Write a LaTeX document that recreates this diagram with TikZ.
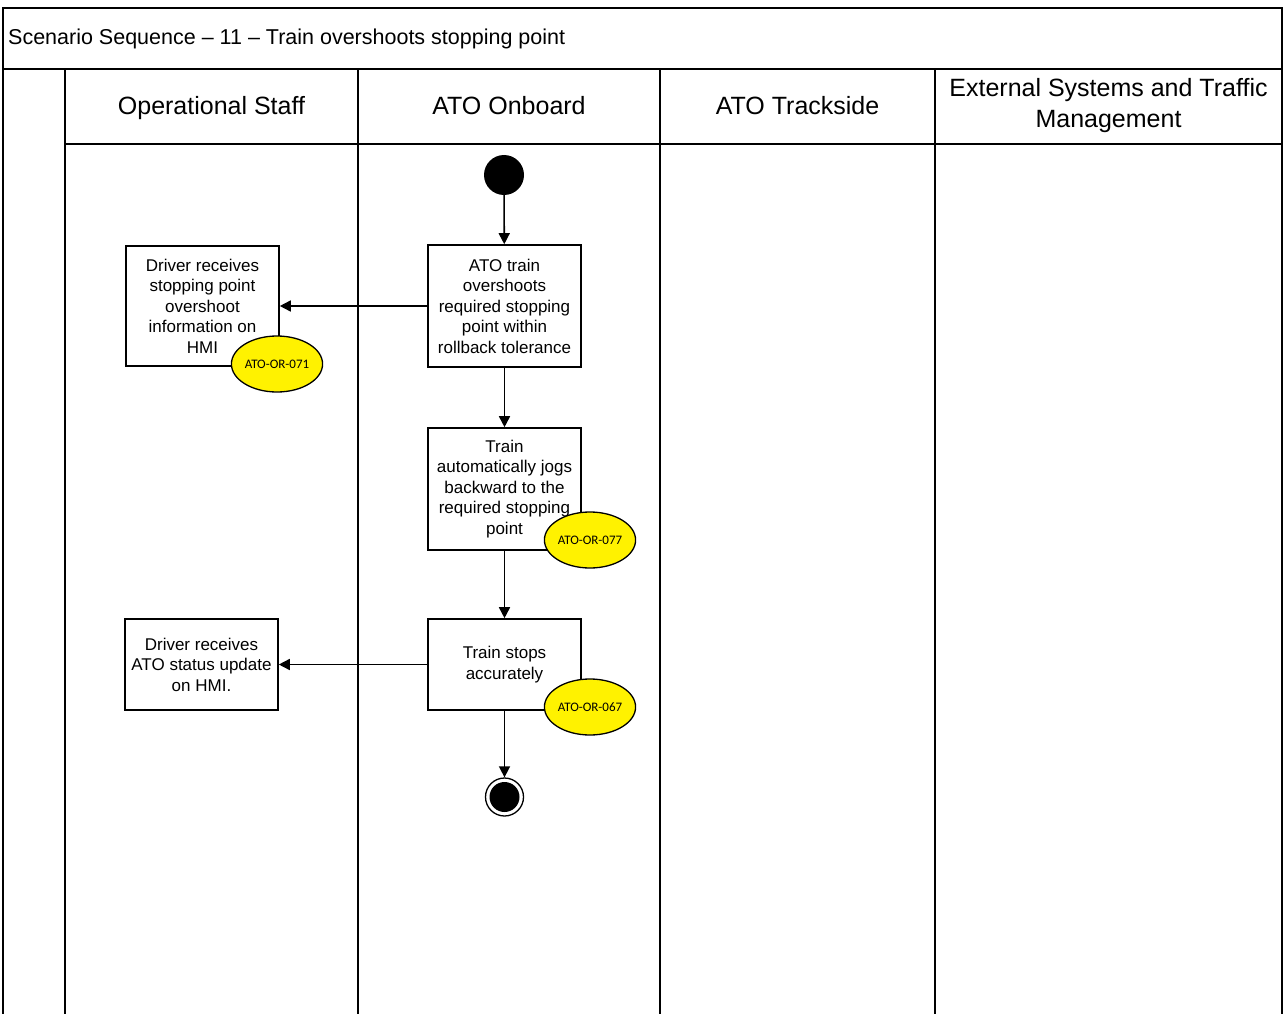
\documentclass[tikz,border=0pt]{standalone}
\usepackage{fontspec}
\setmainfont{Liberation Sans}
\newfontfamily\tagfont{Carlito}
\usetikzlibrary{arrows.meta,shapes.geometric}

\begin{document}
\begin{tikzpicture}[x=1pt,y=-1pt,
  frameline/.style={line width=2pt,line cap=rect},
  actbox/.style={draw,line width=1.6pt,fill=white,inner sep=0pt,align=center,
    font=\fontsize{17}{20.5}\selectfont},
  lanehead/.style={align=center,inner sep=0pt,anchor=base,font=\fontsize{25}{31}\selectfont},
  reqtag/.style={ellipse,draw,line width=1.3pt,fill=yellow,inner sep=0pt,
    minimum width=85pt,minimum height=56pt,font=\tagfont\fontsize{13}{15}\selectfont},
  flow/.style={line width=1.6pt,-{Triangle[length=11pt,width=11pt]}},
  startdot/.style={circle,fill=black,inner sep=0pt,minimum size=40pt},
  enddot/.style={circle,draw,line width=1.3pt,fill=white,inner sep=0pt,minimum size=38pt,
    path picture={\fill[black] (path picture bounding box.center) circle[radius=15pt];}}]

\useasboundingbox (0,0) rectangle (1285,1014);

% swimlane frame
\draw[frameline] (3,1014) -- (3,8) -- (1282,8) -- (1282,1014);
\draw[frameline] (3,69) -- (1282,69);
\draw[frameline] (65,144) -- (1282,144);
\foreach \lx in {65,358,660,935}
  \draw[frameline] (\lx,69) -- (\lx,1014);

% title and lane headings
\node[anchor=west,inner sep=0pt,font=\fontsize{21.5}{25}\selectfont] (title) at (8,39)
  {Scenario Sequence – 11 – Train overshoots stopping point};
\node[lanehead] (hstaff) at (211.5,115) {Operational Staff};
\node[lanehead] (honb) at (509,115) {ATO Onboard};
\node[lanehead] (htrk) at (797.5,115) {ATO Trackside};
\node[lanehead,anchor=center] (hext) at (1108.5,106) {External Systems and Traffic\\Management};

% activity nodes
\node[startdot] (start) at (504,175) {};
\node[actbox,minimum width=153pt,minimum height=122pt] (overshoot) at (504.5,306)
  {ATO train\\overshoots\\required stopping\\point within\\rollback tolerance};
\node[actbox,minimum width=153pt,minimum height=120pt] (drvinfo) at (202.5,306)
  {Driver receives\\stopping point\\overshoot\\information on\\HMI};
\node[actbox,minimum width=153pt,minimum height=122pt] (jog) at (504.5,489)
  {Train\\automatically jogs\\backward to the\\required stopping\\point};
\node[actbox,minimum width=153pt,minimum height=91pt] (stops) at (504.5,664.5)
  {Train stops\\accurately};
\node[actbox,minimum width=153pt,minimum height=91pt] (drvstat) at (201.5,664.5)
  {Driver receives\\ATO status update\\on HMI.};
\node[enddot] (finish) at (504.5,797) {};

% requirement tags
\node[reqtag] (r071) at (277,364) {ATO-OR-071};
\node[reqtag] (r077) at (590,540) {ATO-OR-077};
\node[reqtag] (r067) at (590,707) {ATO-OR-067};

% control flow
\draw[flow] (start) -- (overshoot);
\draw[flow] (overshoot) -- (jog);
\draw[flow] (jog) -- (stops);
\draw[flow] (stops) -- (finish);
\draw[flow] (overshoot.west) -- (overshoot.west -| drvinfo.east);
\draw[flow] (stops.west) -- (stops.west -| drvstat.east);

\end{tikzpicture}
\end{document}
